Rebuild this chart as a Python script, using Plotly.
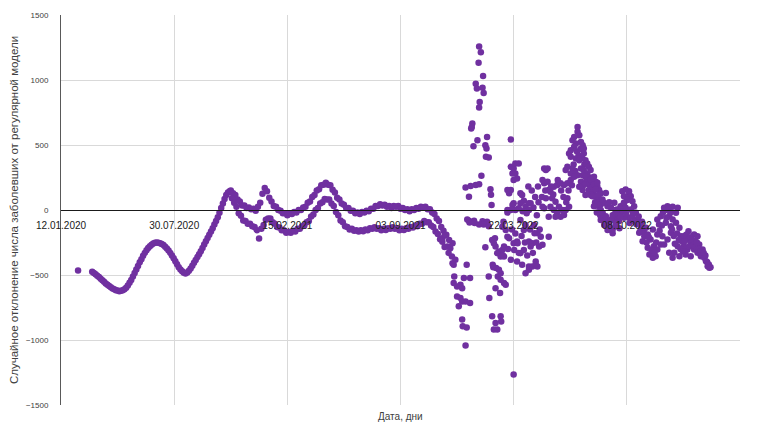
import pandas as pd
import plotly.graph_objects as go

# Day numbers are counted from 12.01.2020
ORIGIN = pd.Timestamp("2020-01-12")

# First wave of 2020: every third day starting from day 55
wave_start, wave_step = 55, 3
wave_2020 = [
    -475, -485, -495, -505, -515, -528, -540, -552, -565, -575,
    -585, -595, -603, -610, -617, -620, -625, -622, -618, -610,
    -598, -580, -560, -538, -512, -485, -458, -430, -402, -378,
    -352, -330, -310, -292, -278, -267, -258, -252, -250, -252,
    -256, -262, -270, -282, -296, -312, -330, -350, -372, -395,
    -418, -440, -458, -472, -482, -488, -480, -468, -450, -428,
    -405, -385, -362, -340, -318, -292, -265, -240, -215, -190,
    -165, -140, -112, -85, -55, -22, 15, 50, 85, 115,
    135, 145,
]

# Weekly upper / lower bands, late 2020 - end of 2021 (every fourth day)
upper_start, lower_start, band_step = 300, 302, 4
band_upper = [
    150, 128, 115, 80, 65, 35, 35, 15, 20, 5,
    10, -5, 25, 55, 125, 170, 145, 95, 65, 30,
    25, 0, -5, -25, -25, -40, -25, -30, -15, -20,
    0, 0, 20, 25, 55, 65, 100, 115, 150, 160,
    190, 195, 210, 195, 190, 155, 135, 95, 80, 50,
    40, 15, 15, -5, -5, -25, -20, -30, -15, -20,
    -5, -10, 10, 10, 30, 30, 45, 35, 40, 25,
    30, 15, 30, 25, 30, 10, 15, 0, 5, -10,
    5, 0, 15, 10, 25, 20, 25, 5, 5, -20,
    -30, -65, -85, -130, -160,
]
band_lower = [
    90, 55, 25, -25, -45, -80, -85, -105, -105, -125,
    -130, -155, -220, -145, -115, -75, -65, -65, -95, -105,
    -130, -135, -155, -155, -175, -170, -175, -160, -165, -145,
    -145, -125, -120, -95, -85, -50, -35, 0, 15, 50,
    60, 85, 80, 80, 50, 30, -15, -40, -80, -95,
    -125, -130, -150, -145, -160, -155, -165, -155, -163, -150,
    -155, -140, -145, -133, -145, -140, -155, -145, -153, -140,
    -145, -133, -145, -140, -155, -145, -153, -140, -145, -130,
    -135, -120, -125, -105, -105, -85, -95, -95, -120, -130,
    -165, -185, -225, -245, -285,
]

# Isolated observations and the volatile period 2022-2023
scatter_days = [
    30,
    674, 678, 681, 683, 685, 686, 688, 692, 691, 697, 692, 694, 695, 694, 700,
    706, 709, 712, 723, 717, 700, 706, 703, 709, 715, 723, 709, 710, 717, 715,
    715, 724, 733, 739, 721, 727, 725, 726, 729, 736, 733, 735, 745, 747, 740,
    739, 739, 742, 738, 746, 753, 750, 752, 751, 756, 743, 759, 760, 761,
    721, 730, 722, 731, 745, 753, 752, 750, 718, 739, 747, 756,
    756, 757, 762, 768, 777, 778, 771, 765, 763, 769, 764, 772, 774, 776, 768,
    783, 786, 777, 762, 767, 768, 765, 774, 777, 783, 780, 771, 795, 789, 792,
    786, 800, 806, 801, 780, 812, 818, 821, 836, 837, 842, 848, 827, 833, 807,
    783, 781, 806, 812, 818, 830, 845, 851, 839, 833, 827, 821, 815, 842, 777,
    827, 839, 862, 800, 782,
    790, 797, 803, 809, 814, 820, 824, 829, 834, 840, 846, 826, 835, 841,
    795, 789, 789, 792, 795, 800, 798, 795, 800, 803, 809, 798, 803, 806, 800,
    812, 815, 818, 812, 821, 827, 823, 816, 789, 827, 830, 809, 795, 803, 832,
    838, 843, 844,
    854, 857, 851, 854, 857, 851, 854, 862, 865, 871, 877, 883, 889, 895, 901,
    868, 874, 880, 886, 892, 865, 871, 877, 883, 889, 898, 895, 862, 874, 860,
    860,
    850, 856, 866, 870, 878, 884, 888, 893, 897, 903, 906, 909, 912, 915, 918,
    921, 925, 929, 932, 935, 938, 941, 944, 947, 950, 953,
    913, 913, 916, 907, 904, 919, 910, 922, 907, 924, 901, 898, 901, 910, 916,
    924, 927, 930, 933, 919, 924, 930, 936, 913, 922, 927, 904, 895, 892, 901,
    907, 919, 924, 933, 939, 936, 927, 922, 916, 942, 945, 948, 951, 954,
    945, 948, 951, 954, 957, 960, 963, 966, 969, 972, 975, 966, 954, 960, 978,
    983, 989, 995, 1001, 1004, 998, 992, 986, 980,
    936, 942, 948, 945, 951, 939, 948, 954, 942, 960, 966, 972, 957, 963, 972,
    978, 969, 975, 980, 986, 983, 989, 995, 978, 992, 998, 1004, 1007, 995,
    1001, 1010, 1013, 1007, 998, 1016, 1010, 1019, 1013, 1004, 995, 989,
    957, 963, 969, 975, 981, 987, 993, 999, 1005, 1011, 1017, 1021, 1024, 1027,
    1030,
    1025, 1022, 1031, 1028, 1037, 1040, 1046, 1051, 1054, 1060, 1048, 1042,
    1037, 1034, 1046, 1054, 1063, 1054, 1060, 1057, 1066, 1072, 1081, 1090,
    1087, 1075, 1081, 1069, 1078, 1087, 1093, 1078, 1072, 1066, 1084, 1081,
    1090, 1096, 1101, 1107, 1113, 1119, 1125, 1119, 1125, 1131, 1137, 1140,
    1143, 1146, 1113, 1107, 1101, 1128, 1134, 1104, 1093, 1075, 1098, 1109,
    1121,
    1035, 1039, 1044, 1049, 1052, 1058, 1062, 1064, 1068, 1070, 1074, 1077,
    1080, 1083, 1085, 1089, 1092, 1095, 1099, 1102, 1105, 1110, 1112, 1116,
    1118, 1122, 1124, 1127, 1130, 1133, 1136, 1139, 1142, 1145, 1148,
]
scatter_vals = [
    -465,
    -217, -197, -190, -281, -330, -230, -294, -255, -358, -383, -409, -422, -511, -562, -588,
    -575, -601, -524, -524, -422, -665, -677, -741, -703, -703, -716, -843, -895, -903, -1043,
    174, 184, 192, 199, 102, 665, 627, 639, 491, 537, 972, 934, 941, 900, 831,
    788, 1258, 1214, 1133, 1030, 562, 499, 473, 409, 404, 263, 159, 117, 38,
    -82, -82, -97, -100, -87, -90, -100, -286, -73, -112, -112, -125,
    -511, -677, -818, -869, -818, -857, -920, -920, -422, -447, -440, -511, -460, -639, -601,
    -562, -575, -537, -230, -217, -281, -255, -320, -358, -358, -307, -332, -383, -205, -217,
    -153, -255, -243, -307, -128, -77, -153, -115, -115, -179, -179, -205, -243, -255, -255,
    -281, -350, -396, -332, -307, -281, -281, -268, -396, -435, -460, -486, -422, -435, -486,
    -435, -422, -205, -1266, -90,
    -300, -150, -180, -330, -200, -250, -350, -150, -330, -250, -150, 180, 20, -40,
    542, 0, -20, 128, 153, 51, 38, 332, 320, 358, 358, 281, 281, 243, 230,
    128, 115, 71, 51, 25, 0, -25, -10, 153, 51, 51, 13, 0, 0, 150,
    100, 180, 60,
    320, 307, 230, 205, 90, 25, 13, 153, 140, 179, 192, 205, 192, 205, 230,
    90, 64, 25, 0, 0, 25, 0, -25, -51, -38, 25, 90, -51, -51, 320,
    217,
    100, 150, 180, 120, 230, 150, 100, 60, 150, 190, 350, 300, 450, 420, 470,
    400, 350, 230, 200, 250, 220, 140, 60, -20, 80, -40,
    639, 601, 575, 562, 537, 524, 511, 499, 486, 473, 460, 435, 409, 396, 383,
    435, 383, 358, 332, 320, 307, 281, 307, 268, 268, 255, 320, 332, 307, 281,
    255, 217, 192, 153, 179, 115, 115, 153, 179, 255, 217, 179, 153, 128,
    102, 51, 25, 0, -25, -51, -77, -102, -128, -153, -179, -153, -77, -115, -77,
    -51, 0, 51, 77, 115, 102, 25, -25, 0,
    235, 196, 209, 158, 119, 106, 55, 42, 29, 55, 29, 17, -22, -48, -73,
    -35, -112, -150, -125, -86, 4, 29, 55, 55, 145, 158, 145, 106, 106,
    81, 68, 29, 4, 17, -22, -48, -73, -86, -60, -60, -48,
    80, 130, 60, -40, -100, -140, -10, -30, -100, -20, -110, -50, -160, -90,
    -170,
    -125, -175, -201, -240, -291, -342, -368, -355, -304, -265, -278, -227,
    -188, -137, -150, -188, -201, -73, -48, -112, 17, 29, 25, 17,
    -22, -48, -73, -99, -125, -99, -137, -175, -227, -265, -329, -368,
    -278, -201, -201, -227, -252, -188, -201, -304, -329, -355, -368, -394,
    -432, -445, -355, -304, -278, -265, -304, -342, -355, -329, -240, -163,
    -240,
    -250, -210, -310, -330, -250, -160, -120, -20, 0, -60, 10, -20,
    -150, -200, -260, -180, -230, -300, -320, -240, -190, -280, -210, -230,
    -270, -280, -250, -300, -320, -340, -330, -350, -400, -420, -440,
]

y_ticks = [-1500, -1000, -500, 0, 500, 1000, 1500]
x_first, x_last = "2020-01-12", "2023-04-26"
tick_step_days = 200

y_title = "Случайное отклонение числа заболевших от регулярной модели"
x_title = "Дата, дни"

days, vals = [], []
days += [wave_start + wave_step * i for i in range(len(wave_2020))]
vals += wave_2020
days += [upper_start + band_step * i for i in range(len(band_upper))]
vals += band_upper
days += [lower_start + band_step * i for i in range(len(band_lower))]
vals += band_lower
days += scatter_days
vals += scatter_vals

dates = ORIGIN + pd.to_timedelta(days, unit="D")

PURPLE = "#7030A0"
GRID = "#d9d9d9"
TEXT = "#404040"
FONT = "Liberation Sans, Arial, sans-serif"

fig = go.Figure(
    go.Scatter(
        x=dates,
        y=vals,
        mode="markers",
        marker=dict(color=PURPLE, size=6.5, line=dict(width=0)),
        hoverinfo="skip",
    )
)

fig.update_layout(
    width=763,
    height=423,
    margin=dict(l=61, r=23, t=15, b=18),
    paper_bgcolor="white",
    plot_bgcolor="white",
    showlegend=False,
    font=dict(family=FONT, color=TEXT),
    xaxis=dict(
        type="date",
        range=[pd.Timestamp(x_first) - pd.Timedelta(hours=3),
               pd.Timestamp(x_last) + pd.Timedelta(hours=3)],
        tickmode="linear",
        tick0=x_first,
        dtick=tick_step_days * 86400000,
        tickformat="%d.%m.%Y",
        tickfont=dict(size=10, color="#202020"),
        ticks="",
        ticklabelstandoff=6,
        showgrid=True,
        gridcolor=GRID,
        gridwidth=1,
        zeroline=False,
        showline=True,
        linecolor="#1a1a1a",
        linewidth=1,
        anchor="free",
        position=0.5,
    ),
    yaxis=dict(
        range=[y_ticks[0], y_ticks[-1]],
        tickvals=y_ticks,
        tickfont=dict(size=8, color=TEXT),
        ticks="",
        ticklabelstandoff=10,
        showgrid=True,
        gridcolor=GRID,
        gridwidth=1,
        zeroline=False,
        showline=True,
        linecolor="#595959",
        linewidth=1,
        title=dict(text=y_title, font=dict(size=11.5, color=TEXT), standoff=4),
    ),
    annotations=[
        dict(
            text=x_title,
            xref="paper", yref="paper",
            x=0.5, y=0,
            xanchor="center", yanchor="top",
            yshift=-4,
            showarrow=False,
            font=dict(size=10, color=TEXT),
        )
    ],
)

fig.write_html("out.html")
